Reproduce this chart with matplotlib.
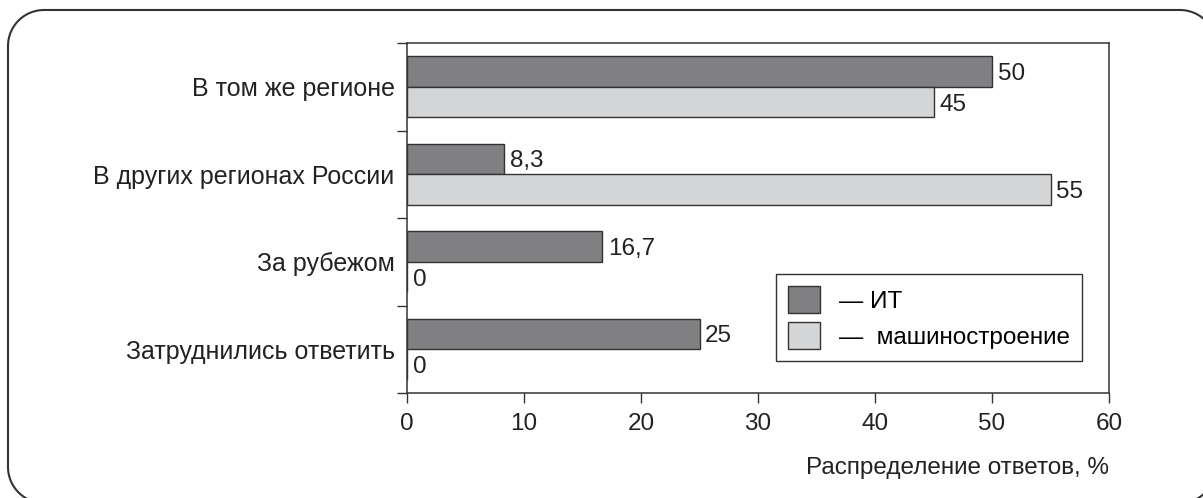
import numpy as np
import matplotlib
matplotlib.use('Agg')
import matplotlib.pyplot as plt
from matplotlib.patches import Patch

plt.rcParams['font.family'] = ['Liberation Sans', 'DejaVu Sans']

categories = ['В том же регионе', 'В других регионах России', 'За рубежом', 'Затруднились ответить']
it_values = [50, 8.3, 16.7, 25]
mash_values = [45, 55, 0, 0]
series_names = ['— ИТ', '—  машиностроение']
xticks = [0, 10, 20, 30, 40, 50, 60]

dark = '#808083'
light = '#d4d5d7'
edge = '#333333'
txt = '#222222'
fs = 17.5

fig = plt.figure(figsize=(12.03, 4.98), dpi=100)

# rounded frame around the whole picture (pixel coords, partly off-canvas)
bg = fig.add_axes([0, 0, 1, 1])
bg.set_xlim(0, 1203)
bg.set_ylim(0, 498)
bg.axis('off')
x0, x1, top, bot, r = 8, 1216, 488, -5, 36
def arc(cx, cy, a0, a1):
    t = np.radians(np.linspace(a0, a1, 30))
    return cx + r * np.cos(t), cy + r * np.sin(t)
pieces = [arc(x0 + r, top - r, 180, 90), arc(x1 - r, top - r, 90, 0),
          arc(x1 - r, bot + r, 0, -90), arc(x0 + r, bot + r, 270, 180)]
fx = np.concatenate([p[0] for p in pieces] + [[pieces[0][0][0]]])
fy = np.concatenate([p[1] for p in pieces] + [[pieces[0][1][0]]])
bg.plot(fx, fy, color=edge, linewidth=1.5)

ax = fig.add_axes([407 / 1203, 1 - 393 / 498, 702 / 1203, 350 / 498])
y = np.arange(len(categories))
h = 0.35
b1 = ax.barh(y - h / 2, it_values, height=h, color=dark, edgecolor=edge, linewidth=1)
b2 = ax.barh(y + h / 2, mash_values, height=h, color=light, edgecolor=edge, linewidth=1)

def fmt(v):
    return ('%g' % v).replace('.', ',')

for bars, vals in [(b1, it_values), (b2, mash_values)]:
    for bar, v in zip(bars, vals):
        ax.annotate(fmt(v), (v, bar.get_y() + bar.get_height() / 2), xytext=(4, 0),
                    textcoords='offset points', va='center_baseline', ha='left', fontsize=fs, color=txt)

ax.set_xlim(0, 60)
ax.set_ylim(len(categories) - 0.5, -0.5)
ax.set_xticks(xticks)
ax.set_xticklabels([str(t) for t in xticks], fontsize=fs, color=txt)
ax.set_yticks(y)
ax.set_yticklabels(categories, fontsize=18, color=txt)
ax.set_yticks(np.arange(-0.5, len(categories)), minor=True)
ax.tick_params(axis='y', which='major', length=0, pad=9)
ax.tick_params(axis='y', which='minor', length=7.2, width=1, color=edge)
ax.tick_params(axis='x', length=7.2, width=1, color=edge, pad=7)
for s in ax.spines.values():
    s.set_color(edge)
    s.set_linewidth(1.1)

ax.set_xlabel('Распределение ответов, %', fontsize=fs, loc='right', labelpad=16, color=txt)

handles = [Patch(facecolor=dark, edgecolor=edge), Patch(facecolor=light, edgecolor=edge)]
leg = ax.legend(handles, series_names, loc='upper left', bbox_to_anchor=(0.5256, 0.34),
                borderaxespad=0, fancybox=False, fontsize=fs, handlelength=1.3, handleheight=1.3,
                labelspacing=0.4, handletextpad=0.8, borderpad=0.5, framealpha=1)
leg.get_frame().set_edgecolor(edge)
leg.get_frame().set_linewidth(1)

fig.savefig('out.png', dpi=100)
